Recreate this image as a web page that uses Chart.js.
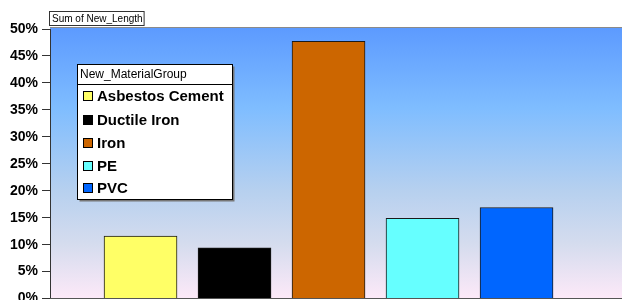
<!DOCTYPE html>
<html>
<head>
<meta charset="utf-8">
<script src="https://cdn.jsdelivr.net/npm/chart.js@4/dist/chart.umd.min.js"></script>
<style>
  html, body { margin: 0; padding: 0; background: #ffffff; overflow: hidden; }
  #wrap { width: 622px; height: 300px; overflow: hidden; position: relative; }
  canvas { display: block; }
</style>
</head>
<body>
<div id="wrap"><canvas id="c" width="622" height="311"></canvas></div>
<script>
// ---- data ----
const categories = ['Asbestos Cement', 'Ductile Iron', 'Iron', 'PE', 'PVC'];
const values = [11.6, 9.4, 47.7, 14.9, 16.9];
const tickValues = [0, 5, 10, 15, 20, 25, 30, 35, 40, 45, 50];
const seriesName = 'Sum of New_Length';
const legendTitle = 'New_MaterialGroup';
const barColors = ['#FFFF66', '#000000', '#CC6600', '#66FFFF', '#0066FF'];

const FONT = "'Liberation Sans', Arial, sans-serif";

const bgPlugin = {
  id: 'bg',
  beforeDraw(chart) {
    const { ctx, chartArea } = chart;
    const top = chartArea.top - 2;
    const bottom = chartArea.bottom;
    const g = ctx.createLinearGradient(0, top, 0, bottom);
    g.addColorStop(0, '#5c9aff');
    g.addColorStop(0.3, '#7fbdff');
    g.addColorStop(0.6, '#b6d0ef');
    g.addColorStop(0.8, '#d5dcee');
    g.addColorStop(1, '#fde9f8');
    ctx.save();
    ctx.fillStyle = g;
    ctx.fillRect(chartArea.left, top, chart.width - chartArea.left, bottom - top);
    ctx.strokeStyle = '#8a8a8a';
    ctx.lineWidth = 1;
    ctx.beginPath();
    ctx.moveTo(chartArea.left, top + 0.5);
    ctx.lineTo(chart.width, top + 0.5);
    ctx.stroke();
    ctx.restore();
  },
  afterDatasetsDraw(chart) {
    const { ctx, chartArea } = chart;
    ctx.save();
    ctx.strokeStyle = '#555555';
    ctx.lineWidth = 1;
    ctx.beginPath();
    ctx.moveTo(chartArea.left, Math.round(chartArea.bottom) - 0.5);
    ctx.lineTo(chart.width, Math.round(chartArea.bottom) - 0.5);
    ctx.stroke();

    ctx.font = '10px ' + FONT;
    const tw = ctx.measureText(seriesName).width;
    ctx.fillStyle = '#ffffff';
    ctx.fillRect(49.5, 11.5, tw + 4, 14);
    ctx.strokeStyle = '#333333';
    ctx.strokeRect(49.5, 11.5, tw + 4, 14);
    ctx.fillStyle = '#000000';
    ctx.textBaseline = 'middle';
    ctx.textAlign = 'left';
    ctx.fillText(seriesName, 52, 19);

    const lx = 77.5, ly = 64.5, lw = 155, lh = 135;
    ctx.fillStyle = '#777777';
    ctx.fillRect(lx + 2, ly + 2, lw, lh);
    ctx.fillStyle = '#ffffff';
    ctx.fillRect(lx, ly, lw, lh);
    ctx.strokeStyle = '#000000';
    ctx.strokeRect(lx, ly, lw, lh);
    ctx.beginPath();
    ctx.moveTo(lx, 84.5);
    ctx.lineTo(lx + lw, 84.5);
    ctx.stroke();
    ctx.font = '12px ' + FONT;
    ctx.fillStyle = '#000000';
    ctx.fillText(legendTitle, 80, 74.5);
    ctx.font = 'bold 15px ' + FONT;
    const ys = [96, 120, 143, 166, 188];
    categories.forEach((c, i) => {
      const y = ys[i];
      ctx.fillStyle = barColors[i];
      ctx.fillRect(83.5, y - 4.5, 9, 9);
      ctx.strokeStyle = '#000000';
      ctx.strokeRect(83.5, y - 4.5, 9, 9);
      ctx.fillStyle = '#000000';
      ctx.fillText(c, 97, y + 0.5);
    });
    ctx.restore();
  }
};

new Chart(document.getElementById('c'), {
  type: 'bar',
  data: {
    datasets: [{
      label: seriesName,
      data: categories.map((c, i) => ({ x: i, y: values[i] })),
      backgroundColor: barColors,
      borderColor: '#1a1a1a',
      borderWidth: 1,
      barThickness: 73
    }]
  },
  options: {
    responsive: false,
    animation: false,
    devicePixelRatio: 1,
    layout: { padding: { top: 29, left: 0, right: 0, bottom: 0 } },
    plugins: {
      legend: { display: false },
      tooltip: { enabled: false }
    },
    scales: {
      x: {
        type: 'linear',
        display: false,
        offset: false,
        min: -0.963,
        max: 5.122
      },
      y: {
        min: 0,
        max: 50,
        afterFit(scale) { scale.width = 50; },
        afterBuildTicks(scale) { scale.ticks = tickValues.map(v => ({ value: v })); },
        ticks: {
          padding: 4,
          color: '#000000',
          font: { family: FONT, size: 14, weight: 'bold' },
          callback: v => v + '%'
        },
        grid: {
          drawOnChartArea: false,
          drawTicks: true,
          tickLength: 8,
          color: '#333333'
        },
        border: { display: true, color: '#333333', width: 1 }
      }
    }
  },
  plugins: [bgPlugin]
});
</script>
</body>
</html>
